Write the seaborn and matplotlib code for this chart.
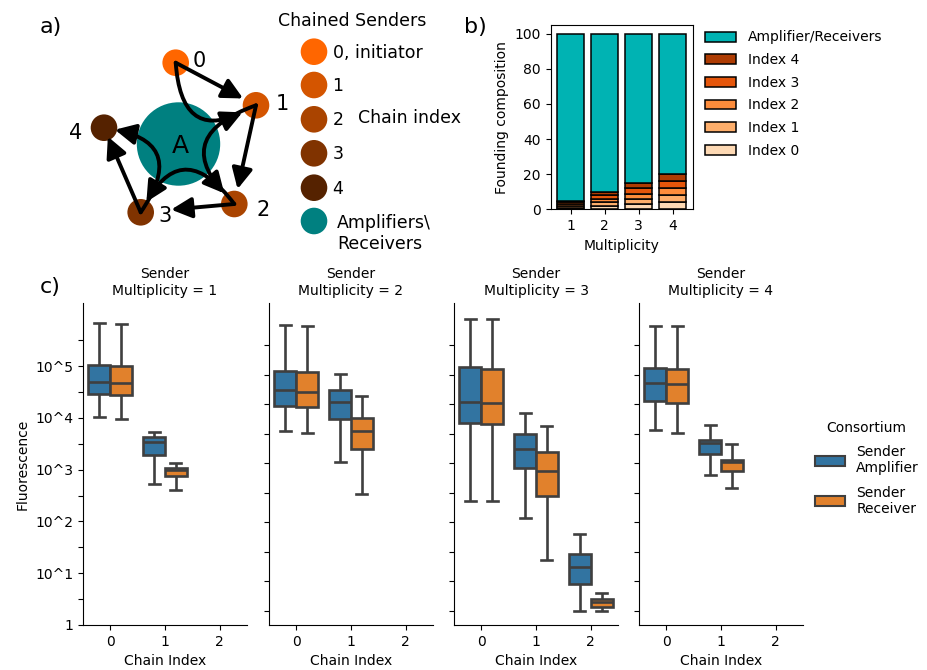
import numpy as np
import pandas as pd
import matplotlib
matplotlib.use("Agg")
import matplotlib.pyplot as plt
from matplotlib.patches import Circle, FancyArrowPatch, Patch
import seaborn as sns

# ---------------- panel a: chained senders around amplifiers/receivers
chain_index = [0, 1, 2, 3, 4]
chain_legend = ["0, initiator", "1", "2", "3", "4"]
chain_colors = ["#ff6600", "#d45500", "#aa4400", "#803300", "#552200"]
amp_color = "#008080"
amp_legend = "Amplifiers\\\nReceivers"

# ---------------- panel b: founding composition (%)
multiplicity = [1, 2, 3, 4]
share_per_index = [1, 2, 3, 4]          # % of founders for each chain index
amp_receiver_share = [95, 90, 85, 80]   # % amplifier/receiver founders
index_names = ["Index 0", "Index 1", "Index 2", "Index 3", "Index 4"]
index_colors = ["#fdd9b4", "#fdae6b", "#fd8c3b", "#e5560b", "#ae3c03"]
amp_bar_color = "#00b3b3"

# ---------------- panel c: log10 fluorescence, five-number summaries
# (min, q1, median, q3, max) per chain index
amp_m1 = [[4.02, 4.46, 4.70, 5.02, 5.84], [2.72, 3.28, 3.53, 3.64, 3.73]]
rec_m1 = [[3.98, 4.44, 4.68, 5.00, 5.82], [2.61, 2.87, 2.99, 3.04, 3.12]]
amp_m2 = [[3.75, 4.24, 4.54, 4.91, 5.79], [3.15, 3.98, 4.30, 4.54, 4.85]]
rec_m2 = [[3.71, 4.21, 4.51, 4.88, 5.77], [2.54, 3.40, 3.75, 3.99, 4.43]]
amp_m3 = [[2.39, 3.91, 4.31, 4.99, 5.92], [2.07, 3.04, 3.40, 3.69, 4.09],
          [0.28, 0.80, 1.12, 1.38, 1.76]]
rec_m3 = [[2.39, 3.89, 4.29, 4.95, 5.92], [1.25, 2.50, 2.97, 3.34, 3.84],
          [0.28, 0.35, 0.45, 0.51, 0.62]]
amp_m4 = [[3.76, 4.32, 4.67, 4.96, 5.78], [2.90, 3.31, 3.51, 3.57, 3.86]]
rec_m4 = [[3.71, 4.29, 4.65, 4.94, 5.77], [2.64, 2.98, 3.14, 3.19, 3.50]]
consortia = ["Sender\nAmplifier", "Sender\nReceiver"]
consortium_colors = ["#3274a1", "#e1812c"]
decade_labels = ["1", "10^1", "10^2", "10^3", "10^4", "10^5"]

summaries = {1: (amp_m1, rec_m1), 2: (amp_m2, rec_m2),
             3: (amp_m3, rec_m3), 4: (amp_m4, rec_m4)}
rows = []
for m, (amp, rec) in summaries.items():
    for name, series in zip(consortia, (amp, rec)):
        for ci, vals in enumerate(series):
            for v in vals:
                rows.append({"Multiplicity": m, "Chain Index": ci,
                             "Consortium": name, "Fluorescence": v})
df = pd.DataFrame(rows)

W, H = 927, 670
fig = plt.figure(figsize=(W / 100, H / 100), dpi=100)


def fig_rect(left, top, right, bottom):
    return [left / W, 1 - bottom / H, (right - left) / W, (bottom - top) / H]


# ======================= panel a =======================
ax_a = fig.add_axes(fig_rect(0, 0, 470, 260))
ax_a.set_xlim(0, 470)
ax_a.set_ylim(260, 0)
ax_a.axis("off")

node_xy = {0: (175.7, 62.7), 1: (256.0, 105.3), 2: (234.3, 204.0),
           3: (140.7, 212.3), 4: (104.0, 127.7)}
label_xy = {0: (199, 61), 1: (282, 104), 2: (263, 210), 3: (165, 216), 4: (76, 133)}
node_r = 13.3
# how far each arrow tip stops short of its target node (points): straight, curved
tip_gap = {0: (10.5, 11), 1: (11, 10.5), 2: (22, 8.5), 3: (7, 8)}

ax_a.add_patch(Circle((178.5, 144), 41.7, color=amp_color, zorder=1, lw=0))
ax_a.text(180, 146, "A", fontsize=18, ha="center", va="center", zorder=5)
for i in chain_index:
    ax_a.add_patch(Circle(node_xy[i], node_r, color=chain_colors[i], zorder=2, lw=0))
    ax_a.text(*label_xy[i], str(i), fontsize=15, ha="center", va="center", zorder=5)

for i in chain_index[:-1]:
    for rad, gap in zip((0.0, 0.8), tip_gap[i]):
        arr = FancyArrowPatch(node_xy[i], node_xy[i + 1], arrowstyle="-|>",
                              connectionstyle=f"arc3,rad={rad}",
                              mutation_scale=31, lw=2.8, color="black",
                              shrinkA=0, shrinkB=gap, zorder=3)
        ax_a.add_patch(arr)

# legend of panel a
leg_y = [51.7, 85, 119.3, 153.3, 187.7, 221]
ax_a.text(352.5, 21, "Chained Senders", fontsize=12.5, ha="center", va="center")
for i in chain_index:
    ax_a.add_patch(Circle((314, leg_y[i]), node_r, color=chain_colors[i], lw=0))
    ax_a.text(332.5, leg_y[i] + 1, chain_legend[i], fontsize=12.5, va="center")
ax_a.add_patch(Circle((314, leg_y[5]), node_r, color=amp_color, lw=0))
ax_a.text(337, 233.5, amp_legend, fontsize=12.5, va="center")
ax_a.text(358, 118, "Chain index", fontsize=12.5, va="center")

# ======================= panel b =======================
ax_b = fig.add_axes(fig_rect(550.7, 25, 692.7, 209.3))
bottom = np.zeros(len(multiplicity))
handles_b = []
for name, col in zip(index_names, index_colors):
    b = ax_b.bar(multiplicity, share_per_index, bottom=bottom, width=0.8,
                 color=col, edgecolor="black", lw=1.1, label=name)
    bottom += np.array(share_per_index)
    handles_b.append(b)
b = ax_b.bar(multiplicity, amp_receiver_share, bottom=bottom, width=0.8,
             color=amp_bar_color, edgecolor="black", lw=1.1,
             label="Amplifier/Receivers")
handles_b.append(b)
ax_b.set_xticks(multiplicity)
ax_b.set_yticks([0, 20, 40, 60, 80, 100])
ax_b.set_xlabel("Multiplicity")
ax_b.set_ylabel("Founding composition")
ax_b.legend(handles_b[::-1], [h.get_label() for h in handles_b[::-1]],
            loc="upper left", bbox_to_anchor=(692 / W, 1 - 18 / H),
            bbox_transform=fig.transFigure, frameon=False, handlelength=2.3,
            labelspacing=0.62)

# ======================= panel c =======================
lefts = [83, 269, 454, 639]
axes_c = []
other_ticks = [0.276, 0.846, 1.416, 1.986, 2.556, 3.126, 3.696, 4.266, 4.836, 5.406]
for k, m in enumerate(multiplicity):
    ax = fig.add_axes(fig_rect(lefts[k], 303, lefts[k] + 164, 625))
    sub = df[df["Multiplicity"] == m]
    sns.boxplot(data=sub, x="Chain Index", y="Fluorescence", hue="Consortium",
                order=[0, 1, 2], hue_order=consortia, palette=consortium_colors,
                saturation=1, whis=(0, 100), width=0.8, linewidth=1.9,
                linecolor="#3f3f3f", fliersize=0, legend=False, ax=ax)
    ax.set_xlim(-0.5, 2.5)
    ax.set_ylim(0, 6.22)
    ax.set_title(f"Sender\nMultiplicity = {m}", fontsize=10)
    ax.set_xlabel("Chain Index")
    if k == 0:
        ticks = np.arange(0, 6.0, 0.5)
        labels = [decade_labels[int(t)] if t == int(t) else "" for t in ticks]
        ax.set_yticks(ticks, labels)
        ax.set_ylabel("Fluorescence")
    else:
        ax.set_yticks(other_ticks, [""] * len(other_ticks))
        ax.set_ylabel("")
    sns.despine(ax=ax)
    axes_c.append(ax)

handles_c = [Patch(facecolor=c, edgecolor="#3f3f3f", lw=1.5) for c in consortium_colors]
fig.legend(handles_c, consortia, title="Consortium", loc="upper left",
           bbox_to_anchor=(802 / W, 1 - 408 / H), frameon=False, fontsize=10,
           title_fontsize=10, handlelength=2.2, labelspacing=0.75)

# panel letters
fig.text(51 / W, 1 - 27 / H, "a)", fontsize=16, ha="center", va="center")
fig.text(475 / W, 1 - 27 / H, "b)", fontsize=16, ha="center", va="center")
fig.text(50 / W, 1 - 287 / H, "c)", fontsize=16, ha="center", va="center")

fig.savefig("out.png", dpi=100)
